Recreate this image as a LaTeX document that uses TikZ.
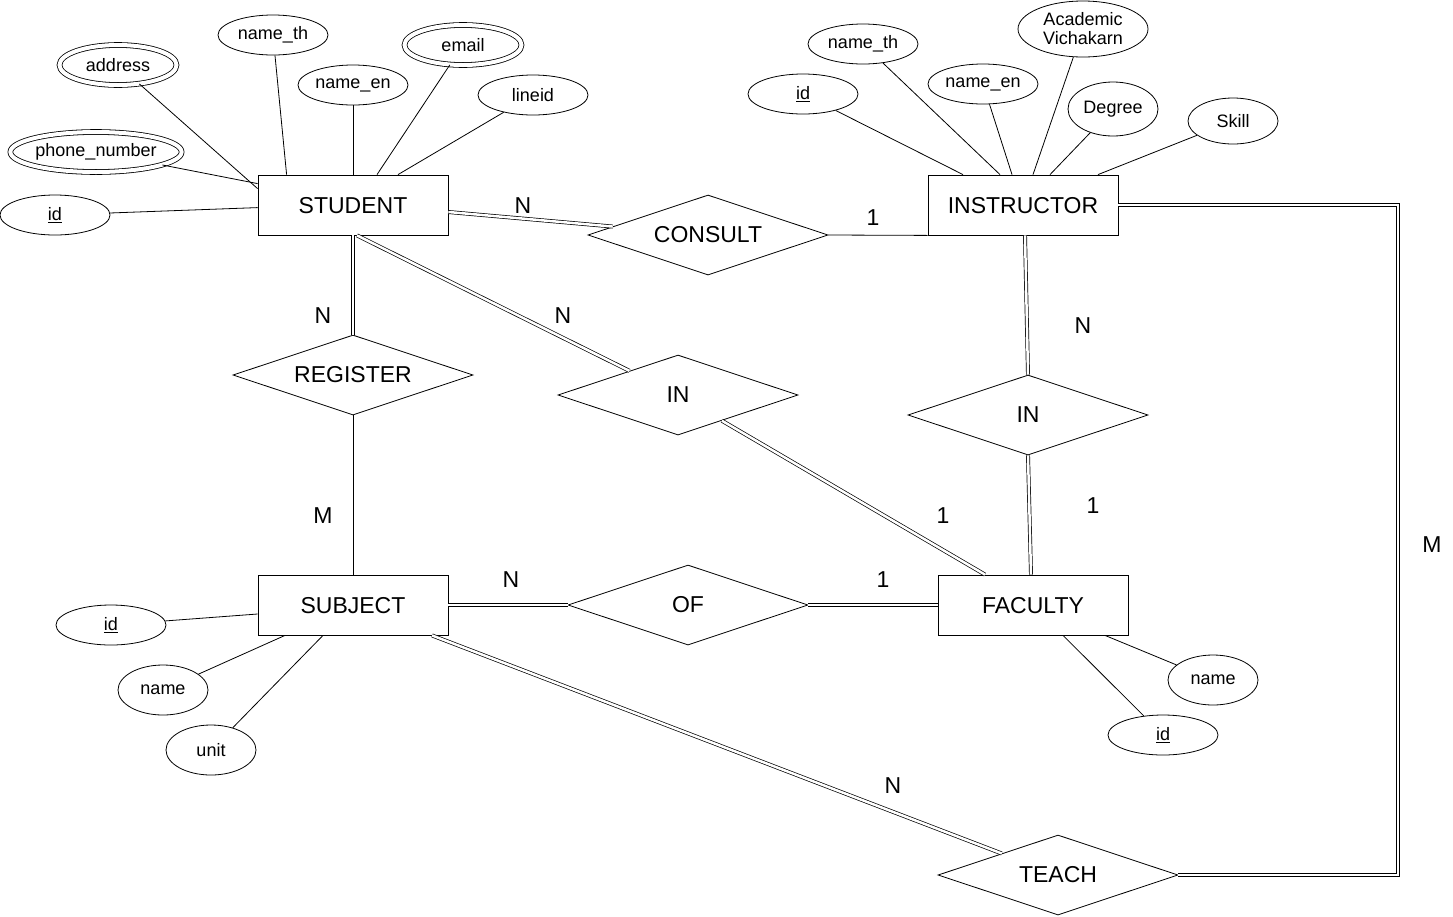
\documentclass[tikz,border=0pt]{standalone}
\usepackage{fontspec}
\setmainfont{Liberation Sans}
\usetikzlibrary{shapes.geometric}

\begin{document}
\begin{tikzpicture}[x=1pt, y=-1pt, line width=0.8pt]
\useasboundingbox (0,0) rectangle (1453,916);
\tikzstyle{every node} = [inner sep=0pt]
\tikzstyle{entity} = [draw, rectangle, minimum width=190, minimum height=60, text height=18, font=\fontsize{23}{27}\selectfont]
\tikzstyle{rel} = [draw, diamond, aspect=3, minimum width=240, minimum height=80, font=\fontsize{23}{27}\selectfont]
\tikzstyle{attr} = [draw, ellipse, minimum width=110, minimum height=40, font=\fontsize{18}{21}\selectfont]
\tikzstyle{multi} = [attr, double, double distance=4pt, minimum width=117, minimum height=40]
\tikzstyle{card} = [font=\fontsize{23}{27}\selectfont]
\tikzstyle{link} = [double, double distance=2.5pt, line width=0.7pt]
% entities
\node[entity] (student) at (353,205) {STUDENT};
\node[entity] (instructor) at (1023,205) {INSTRUCTOR};
\node[entity] (subject) at (353,605) {SUBJECT};
\node[entity] (faculty) at (1033,605) {FACULTY};
% relationships
\node[rel] (consult) at (708,235) {CONSULT};
\node[rel] (register) at (353,375) {REGISTER};
\node[rel] (inst) at (678,395) {IN};
\node[rel] (inins) at (1028,415) {IN};
\node[rel] (of) at (688,605) {OF};
\node[rel] (teach) at (1058,875) {TEACH};
% student attributes
\node[multi] (saddr) at (118,65) {address};
\node[attr] (snameth) at (273,35) {name\_th};
\node[attr] (snameen) at (353,85) {name\_en};
\node[multi] (semail) at (463,45) {email};
\node[attr] (sline) at (533,95) {lineid};
\node[multi, minimum width=166] (sphone) at (96,152) {phone\_number};
\node[attr] (sid) at (55,215) {\underline{id}};
\draw (saddr) -- ([yshift=-14]student.north west);
\draw (sphone) -- ([yshift=-9]student.north west);
\draw (sid) -- ([yshift=-33]student.north west);
\draw (snameth) -- ([xshift=29]student.north west);
\draw (snameen) -- (student.north);
\draw (semail) -- ([xshift=24]student.north);
\draw (sline) -- ([xshift=45]student.north);
% instructor attributes
\node[attr] (iid) at (803,94) {\underline{id}};
\node[attr] (inameth) at (863,44) {name\_th};
\node[attr] (inameen) at (983,84) {name\_en};
\node[attr, align=center, minimum width=130, minimum height=56] (iacad) at (1083,29) {Academic\\[-2pt]Vichakarn};
\node[attr, minimum width=90, minimum height=54] (ideg) at (1113,109) {Degree};
\node[attr, minimum width=90, minimum height=46] (iskill) at (1233,121) {Skill};
\draw (iid) -- ([xshift=-60]instructor.north);
\draw (inameth) -- ([xshift=-23]instructor.north);
\draw (inameen) -- ([xshift=-11]instructor.north);
\draw (iacad) -- ([xshift=10]instructor.north);
\draw (ideg) -- ([xshift=27]instructor.north);
\draw (iskill) -- ([xshift=75]instructor.north);
% subject attributes
\node[attr] (subid) at (111,625) {\underline{id}};
\node[attr, minimum width=90, minimum height=50] (subname) at (163,690) {name};
\node[attr, minimum width=90, minimum height=50] (subunit) at (211,750) {unit};
\draw (subid) -- ([yshift=-9]subject.west);
\draw (subname) -- ([xshift=-68]subject.south);
\draw (subunit) -- ([xshift=-30]subject.south);
% faculty attributes
\node[attr, minimum width=90, minimum height=50] (fname) at (1213,680) {name};
\node[attr] (fid) at (1163,735) {\underline{id}};
\draw (fname) -- ([xshift=72]faculty.south);
\draw (fid) -- ([xshift=30]faculty.south);
% relationship lines
\coordinate (corner) at (1398,875);
\draw[link] ([yshift=-7]student.east) -- (consult);
\draw (consult.east) -- (instructor.south west);
\draw[link] (student.south) -- (register.north);
\draw (register.south) -- (subject.north);
\draw[link] ([xshift=4]student.south) -- (inst);
\draw[link] (inst) -- ([xshift=-48]faculty.north);
\draw[link] ([xshift=2]instructor.south) -- (inins.north);
\draw[link] (inins.south) -- ([xshift=-2]faculty.north);
\draw[link] (subject.east) -- (of.west);
\draw[link] (of.east) -- (faculty.west);
\draw[link] ([xshift=79]subject.south) -- (teach);
\draw[link] (teach.east) -- (corner) |- (instructor.east);
% cardinalities
\node[card] (c1) at (523,206) {N};
\node[card] (c2) at (873,218) {1};
\node[card] (c3) at (323,316) {N};
\node[card] (c4) at (323,516) {M};
\node[card] (c5) at (563,316) {N};
\node[card] (c6) at (943,516) {1};
\node[card] (c7) at (1083,326) {N};
\node[card] (c8) at (1093,506) {1};
\node[card] (c9) at (511,580) {N};
\node[card] (c10) at (883,580) {1};
\node[card] (c11) at (893,786) {N};
\node[card] (c12) at (1432,545) {M};
\end{tikzpicture}
\end{document}
